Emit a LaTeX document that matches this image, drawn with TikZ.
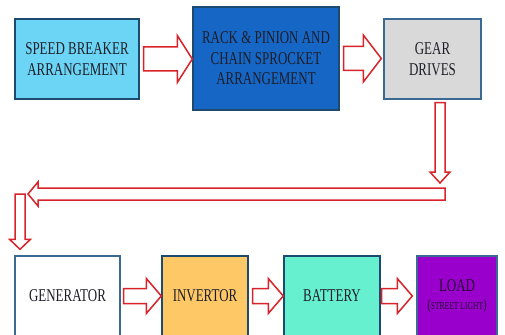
\documentclass[tikz,border=0pt]{standalone}
\usepackage{fontspec}
\usetikzlibrary{calc}
\newfontfamily\boxfont[FakeStretch=0.72]{Liberation Serif}

\definecolor{arrowred}{HTML}{D8232A}
\definecolor{edgeblue}{HTML}{3A6A94}
\definecolor{edgedark}{HTML}{1F4A70}
\definecolor{skyfill}{HTML}{6CD5F6}
\definecolor{rackfill}{HTML}{1666C5}
\definecolor{gearfill}{HTML}{D9D9D9}
\definecolor{invfill}{HTML}{FFC867}
\definecolor{batfill}{HTML}{66F0D0}
\definecolor{loadfill}{HTML}{9900CC}
\definecolor{inkdark}{HTML}{1E1E28}

\tikzset{
  stage/.style={draw=edgeblue, line width=1.4pt, align=center, inner sep=0pt,
    font=\boxfont\fontsize{18}{20.5}\selectfont, text=inkdark},
  blockarrow/.style={draw=arrowred, fill=white, line width=1.5pt, line join=miter}
}

% horizontal block arrow: start, tip, shaft half-width, head half-width, signed head length
\newcommand\harrow[5]{%
  \draw[blockarrow] let \p1=#1, \p2=#2 in
    (\x1,\y1+#3pt) -- (\x2-#5pt,\y1+#3pt) -- (\x2-#5pt,\y1+#4pt) -- (\x2,\y1)
    -- (\x2-#5pt,\y1-#4pt) -- (\x2-#5pt,\y1-#3pt) -- (\x1,\y1-#3pt) -- cycle;}
% vertical block arrow: start, tip, shaft half-width, head half-width, signed head length
\newcommand\varrow[5]{%
  \draw[blockarrow] let \p1=#1, \p2=#2 in
    (\x1+#3pt,\y1) -- (\x1+#3pt,\y2+#5pt) -- (\x1+#4pt,\y2+#5pt) -- (\x1,\y2)
    -- (\x1-#4pt,\y2+#5pt) -- (\x1-#3pt,\y2+#5pt) -- (\x1-#3pt,\y1) -- cycle;}

\begin{document}
\begin{tikzpicture}[x=1pt, y=-1pt]
\clip (0,0) rectangle (505,334);
\fill[white] (0,0) rectangle (505,334);

% top row
\node[stage, draw=edgedark, fill=skyfill, minimum width=124pt, minimum height=80pt]
  (sb) at (77,59) {SPEED BREAKER\\ARRANGEMENT};
\node[stage, draw=edgedark, fill=rackfill, minimum width=146pt, minimum height=103pt]
  (rp) at (266,58.5) {RACK \& PINION AND\\CHAIN SPROCKET\\ARRANGEMENT};
\node[stage, fill=gearfill, minimum width=97pt, minimum height=80pt]
  (gd) at (432.5,59) {GEAR\\DRIVES};

% bottom row
\node[stage, fill=white, minimum width=105pt, minimum height=80pt]
  (gen) at (67.5,296) {GENERATOR};
\node[stage, draw=edgedark, fill=invfill, minimum width=86pt, minimum height=80pt]
  (inv) at (205,296) {INVERTOR};
\node[stage, draw=edgedark, fill=batfill, minimum width=96pt, minimum height=80pt]
  (bat) at (332,296) {BATTERY};
\node[stage, draw=edgeblue, fill=loadfill, minimum width=80pt, minimum height=80pt, text=black!75!loadfill]
  (load) at (457,296) {LOAD\\[-2pt]{\fontsize{15}{16}\selectfont(}{\fontsize{10.5}{12}\selectfont STREET LIGHT}{\fontsize{15}{16}\selectfont)}};

% return path from the gear drives down to the generator
\coordinate (d1s) at ($(gd.south)+(7.5,3)$);
\coordinate (d1t) at (440,183);
\coordinate (l1s) at (445,194);
\coordinate (l1t) at (28,194);
\coordinate (d2s) at (20,194);
\coordinate (d2t) at ($(gen.north)+(-47.5,-6)$);

% connectors
\harrow{($(sb.east)+(4,0)$)}{(rp.west)}{12}{23.5}{15}
\harrow{($(rp.east)+(4,0)$)}{($(gd.west)+(-2,0)$)}{12}{23.5}{18}
\varrow{(d1s)}{(d1t)}{5}{10}{11}
\harrow{(l1s)}{(l1t)}{6}{12}{-10}
\varrow{(d2s)}{(d2t)}{5}{10.5}{10}
\harrow{($(gen.east)+(3,0)$)}{(inv.west)}{7.5}{17.5}{15}
\harrow{($(inv.east)+(4,0)$)}{(bat.west)}{7.5}{17.5}{15}
\harrow{($(bat.east)+(1,0)$)}{($(load.west)+(-4,0)$)}{7.5}{17.5}{15}
\end{tikzpicture}
\end{document}
